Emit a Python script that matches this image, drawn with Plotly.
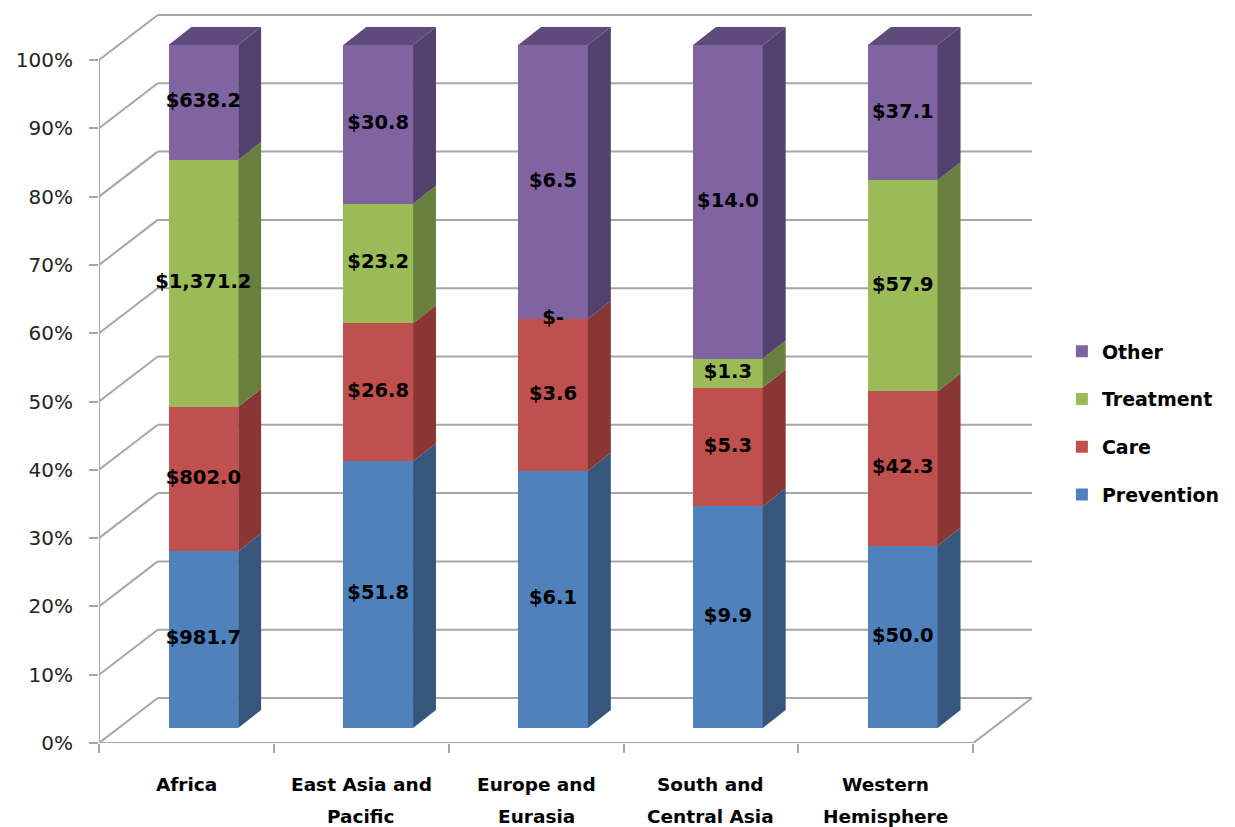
import plotly.graph_objects as go

# ---------------- data ----------------
regions = ["Africa", "East Asia and<br>Pacific", "Europe and<br>Eurasia",
           "South and<br>Central Asia", "Western<br>Hemisphere"]
series_names = ["Prevention", "Care", "Treatment", "Other"]
prevention = [981.7, 51.8, 6.1, 9.9, 50.0]
care = [802.0, 26.8, 3.6, 5.3, 42.3]
treatment = [1371.2, 23.2, 0.0, 1.3, 57.9]
other = [638.2, 30.8, 6.5, 14.0, 37.1]
pct_ticks = [0, 10, 20, 30, 40, 50, 60, 70, 80, 90, 100]
pct_tick_text = [f"{t}%" for t in pct_ticks]

# ---------------- styles ----------------
front_colors = ["#4F81BD", "#C0504D", "#9BBB59", "#8064A2"]
side_colors = ["#36567E", "#8A3634", "#67803D", "#52416C"]
top_color = "#5E4A7B"
grid_color = "#A6A6A6"
FONT = "DejaVu Sans"

# pixel geometry -> data units
PX_X = 175.6          # px per category
PX_Y = 6.83           # px per percent
PLOT_L, PLOT_B, PLOT_T = 99, 84, 10
PLOT_W, PLOT_H = 941, 733
FX, FY = 17 / PX_X, 15 / PX_Y      # axis plane -> bar front
DX, DY = 23 / PX_X, 18 / PX_Y      # bar depth
WX, WY = 59 / PX_X, 45 / PX_Y      # axis plane -> back wall
BW = 70 / PX_X                      # bar width

values = [prevention, care, treatment, other]
n = len(regions)
totals = [sum(v[i] for v in values) for i in range(n)]
pcts = [[v[i] / totals[i] * 100 for i in range(n)] for v in values]

fig = go.Figure()

# bases
bases = []
cum = [0.0] * n
for s in range(len(values)):
    bases.append(cum[:])
    cum = [cum[i] + pcts[s][i] for i in range(n)]

xc = [i + 0.5 + FX for i in range(n)]

# front faces
for s, name in enumerate(series_names):
    fig.add_trace(go.Bar(
        x=xc, y=pcts[s], base=[b + FY for b in bases[s]], width=BW,
        name=name, legendgroup=name, legendrank=len(series_names) - s,
        marker=dict(color=front_colors[s], line=dict(width=0)),
        hoverinfo="skip",
    ))

# side faces
for s, name in enumerate(series_names):
    xs, ys = [], []
    for i in range(n):
        xr = xc[i] + BW / 2
        y0 = bases[s][i] + FY
        y1 = y0 + pcts[s][i]
        xs += [xr, xr + DX, xr + DX, xr, xr, None]
        ys += [y0, y0 + DY, y1 + DY, y1, y0, None]
    fig.add_trace(go.Scatter(
        x=xs, y=ys, mode="lines", fill="toself", fillcolor=side_colors[s],
        line=dict(width=0, color=side_colors[s]), showlegend=False,
        hoverinfo="skip",
    ))

# top faces
xs, ys = [], []
for i in range(n):
    xl, xr = xc[i] - BW / 2, xc[i] + BW / 2
    yt = cum[i] + FY
    xs += [xl, xr, xr + DX, xl + DX, xl, None]
    ys += [yt, yt, yt + DY, yt + DY, yt, None]
fig.add_trace(go.Scatter(
    x=xs, y=ys, mode="lines", fill="toself", fillcolor=top_color,
    line=dict(width=0, color=top_color), showlegend=False, hoverinfo="skip",
))

# data labels
for s in range(len(series_names)):
    txt = [("$-" if v == 0 else f"${v:,.1f}") for v in values[s]]
    fig.add_trace(go.Scatter(
        x=xc, y=[bases[s][i] + FY + pcts[s][i] / 2 for i in range(n)],
        mode="text", text=txt, showlegend=False, hoverinfo="skip",
        textfont=dict(family=FONT, size=19.5, color="#000000", weight="bold"),
    ))

# walls / gridlines
shapes = []
def line(x0, y0, x1, y1):
    shapes.append(dict(type="line", xref="x", yref="y", x0=x0, y0=y0, x1=x1, y1=y1,
                       line=dict(color=grid_color, width=2), layer="below"))

for v in pct_ticks:
    line(0, v, WX, v + WY)
    line(WX, v + WY, n + WX, v + WY)
line(0, 0, 0, 100)
line(0, 0, n, 0)
line(n, 0, n + WX, WY)

# category labels
annotations = []
for i, r in enumerate(regions):
    parts = r.split("<br>")
    for k, p in enumerate(parts):
        annotations.append(dict(
            x=i + 0.5, xref="x", y=0, yref="paper", yanchor="middle",
            yshift=-41 - 32 * k, text=p, showarrow=False,
            font=dict(family=FONT, size=18.5, color="#000000", weight="bold"),
        ))

fig.update_layout(
    width=1235, height=827,
    margin=dict(l=PLOT_L, r=1235 - PLOT_L - PLOT_W, t=PLOT_T, b=PLOT_B),
    paper_bgcolor="white", plot_bgcolor="white",
    barmode="overlay", bargap=0,
    shapes=shapes, annotations=annotations,
    font=dict(family=FONT, color="#222222"),
    xaxis=dict(range=[0, PLOT_W / PX_X], tickvals=list(range(n + 1)),
               ticktext=[""] * (n + 1), ticks="outside", ticklen=9,
               tickcolor=grid_color, tickwidth=2, showgrid=False,
               zeroline=False, showline=False, fixedrange=True),
    yaxis=dict(range=[0, PLOT_H / PX_Y], tickvals=pct_ticks, ticktext=pct_tick_text,
               ticks="outside", ticklen=9, tickcolor=grid_color, tickwidth=2,
               tickfont=dict(family=FONT, size=20, color="#222222"),
               ticklabelstandoff=12, showgrid=False, zeroline=False,
               showline=False, fixedrange=True),
    legend=dict(x=(1066 - PLOT_L) / PLOT_W, xanchor="left",
                y=(743 - 423) / PLOT_H, yanchor="middle",
                traceorder="grouped", tracegroupgap=20,
                font=dict(family=FONT, size=19, color="#000000", weight="bold"),
                bgcolor="rgba(0,0,0,0)"),
)

fig.write_html("out.html")
